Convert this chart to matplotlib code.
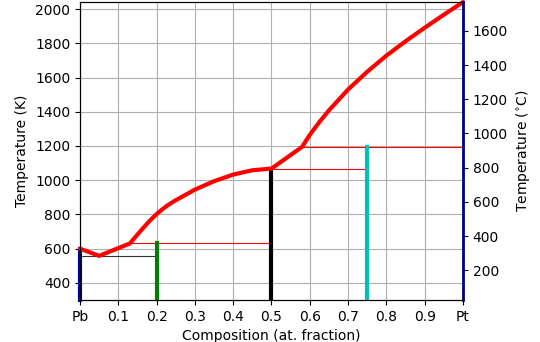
import matplotlib
matplotlib.use("Agg")
import matplotlib.pyplot as plt
import numpy as np

# Liquidus curve (composition at. fraction Pt, temperature K)
liq_x = [0.0, 0.05, 0.13, 0.16, 0.18, 0.2, 0.215, 0.23, 0.25, 0.3, 0.35, 0.4, 0.45, 0.5,
         0.58, 0.6, 0.625, 0.65, 0.7, 0.75, 0.8, 0.85, 0.9, 0.95, 1.0]
liq_T = [600, 558, 630, 708, 758, 802, 830, 855, 883, 945, 994, 1033, 1058, 1068,
         1195, 1265, 1340, 1408, 1530, 1634, 1728, 1812, 1891, 1967, 2041]

# Invariant (horizontal) lines: x start, x end, temperature, color
inv_x0 = [0.0, 0.13, 0.5, 0.58]
inv_x1 = [0.2, 0.5, 0.75, 1.0]
inv_T = [558, 633, 1063, 1194]
inv_col = ['#333333', 'red', 'red', 'red']

# Compounds (vertical lines): composition, top temperature, color
comp_x = [0.0, 0.2, 0.5, 0.75]
comp_T = [600, 633, 1065, 1194]
comp_col = ['#0000aa', 'green', 'black', '#00bfbf']

xticks = [0.0, 0.1, 0.2, 0.3, 0.4, 0.5, 0.6, 0.7, 0.8, 0.9, 1.0]
xticklabels = ['Pb', '0.1', '0.2', '0.3', '0.4', '0.5', '0.6', '0.7', '0.8', '0.9', 'Pt']
yticks = [400, 600, 800, 1000, 1200, 1400, 1600, 1800, 2000]
cticks = [200, 400, 600, 800, 1000, 1200, 1400, 1600]

Tmin, Tmax = 300, 2041.5

fig = plt.figure(figsize=(5.4, 3.42), dpi=100)
ax = fig.add_axes([0.1481, 0.1228, 0.7093, 0.8714])
ax.set_axisbelow(True)
ax.grid(True, color='#b0b0b0', linewidth=0.8)

for x0, x1, T, c in zip(inv_x0, inv_x1, inv_T, inv_col):
    ax.plot([x0, x1], [T, T], color=c, linewidth=0.8, zorder=2)

for x, T, c in zip(comp_x, comp_T, comp_col):
    ax.plot([x, x], [Tmin, T], color=c, linewidth=3, zorder=3,
            clip_on=(x != 0))

ax.plot(liq_x, liq_T, color='red', linewidth=3, zorder=4, clip_on=False,
        solid_joinstyle='round', solid_capstyle='round')

ax.set_xlim(0, 1)
ax.set_ylim(Tmin, Tmax)
ax.set_xticks(xticks)
ax.set_xticklabels(xticklabels)
ax.set_yticks(yticks)
ax.set_xlabel('Composition (at. fraction)')
ax.set_ylabel('Temperature (K)')

ax2 = ax.twinx()
ax2.set_ylim(Tmin - 273.15, Tmax - 273.15)
ax2.set_yticks(cticks)
ax2.set_ylabel('Temperature ($^{\\circ}$C)')
ax2.spines['right'].set_color('#000080')
ax2.spines['right'].set_linewidth(2)

fig.savefig('out.png', dpi=100)
